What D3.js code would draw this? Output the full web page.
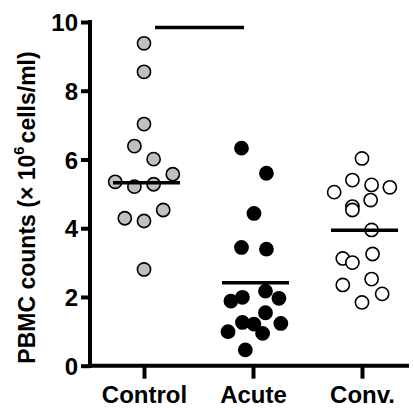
<!DOCTYPE html>
<html>
<head>
<meta charset="utf-8">
<script src="https://cdn.jsdelivr.net/npm/d3@7"></script>
<style>
  html, body { margin: 0; padding: 0; background: #fff; }
  svg { display: block; }
  text { font-family: "Liberation Sans", Arial, Helvetica, sans-serif; font-weight: bold; }
</style>
</head>
<body>
<svg id="chart" width="414" height="408"></svg>
<script>
// ---- data ----
const categories = ["Control", "Acute", "Conv."];
const controlValues = [9.38, 8.55, 7.03, 6.39, 6.01, 5.57, 5.35, 5.21, 5.28, 4.53, 4.29, 4.21, 2.80];
const controlJitter = [0, 0, 0, -1, 1, 3, -3, -1, 1, 2, -2, 0, 0];
const acuteValues = [6.33, 5.60, 4.43, 3.44, 3.39, 1.99, 1.88, 2.17, 1.96, 1.54, 1.26, 1.21, 1.23, 0.99, 0.94, 0.46];
const acuteJitter = [-1.2, 1.4, 0.1, -1.2, 1.4, -1.1, -2.3, 1.3, 2.7, 1.3, -1.1, 0.1, 2.9, -2.6, 1.0, -0.8];
const convValues = [6.03, 5.40, 5.26, 5.19, 5.05, 4.82, 4.63, 4.53, 3.95, 3.12, 3.00, 3.25, 2.35, 2.52, 2.09, 1.84];
const convJitter = [0, -1, 1, 2.9, -2.9, 0.9, -1, -1, 1, -2, -1, 1.1, -2, 1, 2.1, 0];
const centerLines = [5.32, 2.41, 3.94];
const sigBar = { from: "Control", to: "Acute", value: 9.84 };
const yTicks = [0, 2, 4, 6, 8, 10];

const groups = [
  { name: "Control", values: controlValues, jitter: controlJitter, fill: "#c0c0c0" },
  { name: "Acute", values: acuteValues, jitter: acuteJitter, fill: "#000000" },
  { name: "Conv.", values: convValues, jitter: convJitter, fill: "#ffffff" }
];

// ---- layout ----
const svg = d3.select("#chart");
const axisX = 90, axisRight = 409;
const y = d3.scaleLinear().domain([0, 10]).range([365.7, 22]);
const x = d3.scalePoint().domain(categories).range([144, 362]);
const jit = d3.scaleLinear().domain([0, 1]).range([0, 9.6]);
const r = 6.6;

// y axis
const yAxis = svg.append("g")
  .attr("transform", `translate(${axisX},0)`)
  .call(d3.axisLeft(y).tickValues(yTicks).tickFormat(d3.format("d")).tickSize(9).tickPadding(3));
yAxis.select(".domain").remove();
yAxis.selectAll(".tick line").attr("stroke", "#000").attr("stroke-width", 4);
yAxis.selectAll(".tick text").attr("font-size", 24).attr("fill", "#000").attr("dy", "0.36em");
yAxis.append("line").attr("x1", 0).attr("x2", 0).attr("y1", y(10) - 2).attr("y2", y(0) + 2)
  .attr("stroke", "#000").attr("stroke-width", 4);

// x axis
const xAxis = svg.append("g")
  .attr("transform", `translate(0,${y(0)})`)
  .call(d3.axisBottom(x).tickSize(13).tickPadding(7));
xAxis.select(".domain").remove();
xAxis.selectAll(".tick line").attr("stroke", "#000").attr("stroke-width", 4);
xAxis.selectAll(".tick text").attr("font-size", 24).attr("fill", "#000").attr("dy", "0.71em");
xAxis.append("line").attr("x1", axisX - 2).attr("x2", axisRight).attr("y1", 0).attr("y2", 0)
  .attr("stroke", "#000").attr("stroke-width", 4);

// y title
const title = svg.append("text")
  .attr("transform", `translate(35,${(50 + 365) / 2}) rotate(-90)`)
  .attr("text-anchor", "middle")
  .attr("font-size", 23)
  .attr("fill", "#000");
title.append("tspan").text("PBMC counts (× 10");
title.append("tspan").text("6").attr("font-size", 15).attr("dy", "-0.75em");
title.append("tspan").text("cells/ml)").attr("dy", "0.5em").attr("dx", 3);

// points
groups.forEach(g => {
  svg.append("g").selectAll("circle")
    .data(g.values.map((v, i) => ({ v, j: g.jitter[i] })))
    .join("circle")
    .attr("cx", d => x(g.name) + jit(d.j))
    .attr("cy", d => y(d.v))
    .attr("r", r)
    .attr("fill", g.fill)
    .attr("stroke", "#000")
    .attr("stroke-width", 1.6);
});

// center lines
svg.append("g").selectAll("line")
  .data(categories.map((c, i) => ({ c, v: centerLines[i] })))
  .join("line")
  .attr("x1", d => x(d.c) - 31)
  .attr("x2", d => x(d.c) + 36)
  .attr("y1", d => y(d.v))
  .attr("y2", d => y(d.v))
  .attr("stroke", "#000")
  .attr("stroke-width", 3.5);

// significance bar
svg.append("line")
  .attr("x1", x(sigBar.from) + 11)
  .attr("x2", x(sigBar.to) - 9)
  .attr("y1", y(sigBar.value))
  .attr("y2", y(sigBar.value))
  .attr("stroke", "#000")
  .attr("stroke-width", 3.5);
</script>
</body>
</html>
